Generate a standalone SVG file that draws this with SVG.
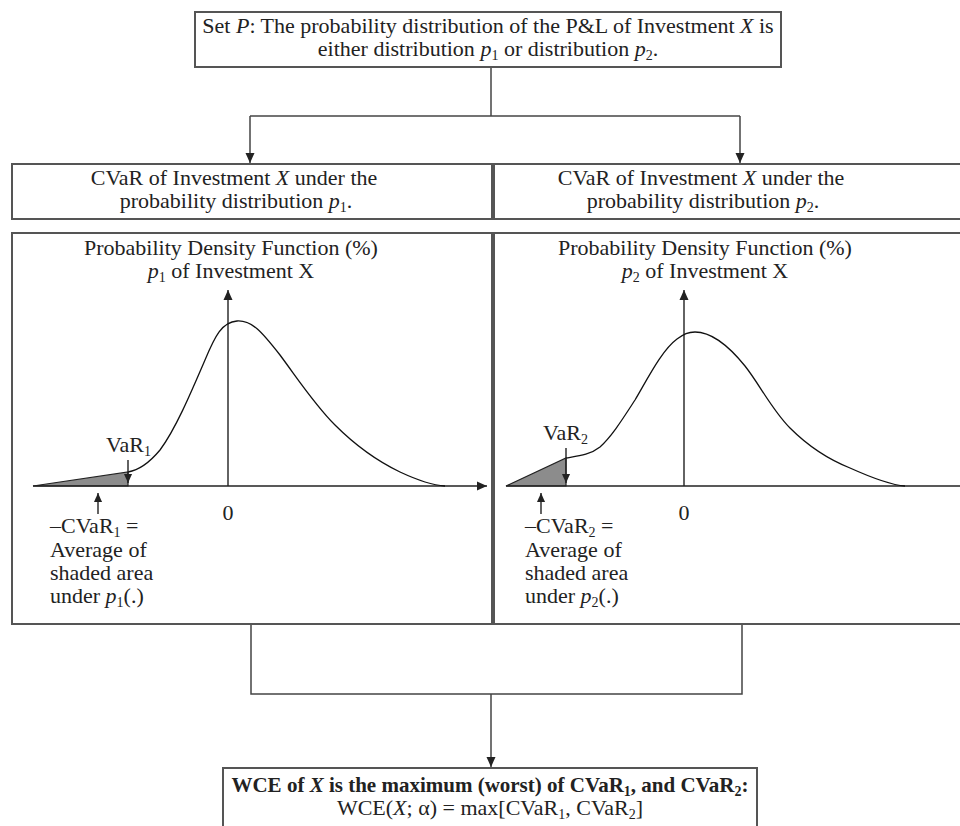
<svg xmlns="http://www.w3.org/2000/svg" width="960" height="826" viewBox="0 0 960 826">
<style>
.box{fill:#fff;stroke:#555;stroke-width:2}
.con{fill:none;stroke:#444;stroke-width:1.5}
.ax{fill:none;stroke:#222;stroke-width:1.4}
.crv{fill:none;stroke:#111;stroke-width:1.3}
.shade{fill:#8c8c8c;stroke:#222;stroke-width:1.2}
text{font-family:"Liberation Serif","Times New Roman",serif;font-size:22px;fill:#222}
.c{text-anchor:middle}
.b{font-weight:bold;font-size:21px}
.i{font-style:italic}
.s{font-size:14px}
</style>
<defs>
<marker id="ah" viewBox="0 0 10 10" refX="10" refY="5" markerWidth="10" markerHeight="10" markerUnits="userSpaceOnUse" orient="auto">
<path d="M0,0.5 L10,5 L0,9.5 Z" fill="#222"/>
</marker>
<marker id="ahs" viewBox="0 0 10 10" refX="10" refY="5" markerWidth="9" markerHeight="9" markerUnits="userSpaceOnUse" orient="auto">
<path d="M0,0.5 L10,5 L0,9.5 Z" fill="#222"/>
</marker>
</defs>
<rect width="960" height="826" fill="#fff"/>

<g id="connectors">
<path class="con" d="M491,67 V116"/>
<path class="con" d="M250,116 H740"/>
<path class="con" d="M250,116 V163" marker-end="url(#ah)"/>
<path class="con" d="M740,116 V163" marker-end="url(#ah)"/>
<path class="con" d="M251,625 V694 H742 V625"/>
<path class="con" d="M491,694 V767" marker-end="url(#ah)"/>
</g>

<g id="node-set-p">
<rect class="box" x="195" y="12" width="586" height="55"/>
<text class="c" x="488" y="33">Set <tspan class="i">P</tspan>: The probability distribution of the P&amp;L of Investment <tspan class="i">X</tspan> is</text>
<text class="c" x="488" y="56">either distribution <tspan class="i">p</tspan><tspan class="s" dy="4">1</tspan><tspan dy="-4"> or distribution </tspan><tspan class="i">p</tspan><tspan class="s" dy="4">2</tspan><tspan dy="-4">.</tspan></text>
</g>

<g id="node-cvar-p1">
<rect class="box" x="12" y="164" width="480" height="55"/>
<text class="c" x="234" y="185">CVaR of Investment <tspan class="i">X</tspan> under the</text>
<text class="c" x="236" y="208">probability distribution <tspan class="i">p</tspan><tspan class="s" dy="4">1</tspan><tspan dy="-4">.</tspan></text>
</g>

<g id="node-cvar-p2">
<rect class="box" x="494" y="164" width="470" height="55"/>
<text class="c" x="701" y="185">CVaR of Investment <tspan class="i">X</tspan> under the</text>
<text class="c" x="703" y="208">probability distribution <tspan class="i">p</tspan><tspan class="s" dy="4">2</tspan><tspan dy="-4">.</tspan></text>
</g>

<g id="node-pdf-p1">
<rect class="box" x="12" y="233" width="480" height="391"/>
<text class="c" x="231" y="255">Probability Density Function (%)</text>
<text class="c" x="231" y="278"><tspan class="i">p</tspan><tspan class="s" dy="4">1</tspan><tspan dy="-4"> of Investment X</tspan></text>
<polygon class="shade" points="33,486 128,472 128,486"/>
<path class="ax" d="M228,486 V290" marker-end="url(#ah)"/>
<path class="ax" d="M33,486 H487" marker-end="url(#ah)"/>
<path class="crv" d="M128,472 C140,470 150,462 160,450 C175,430 190,395 205,360 C215,336 222,322 237,321 C252,320 262,332 280,355 C300,382 315,405 335,425 C355,445 375,460 400,472 C415,479 430,485 445,486"/>
<text x="106" y="452">VaR<tspan class="s" dy="4">1</tspan></text>
<path class="ax" d="M128,460 V483" marker-end="url(#ahs)"/>
<path class="ax" d="M98,514 V493" marker-end="url(#ahs)"/>
<text class="c" x="228" y="520">0</text>
<text x="50" y="533">–CVaR<tspan class="s" dy="4">1</tspan><tspan dy="-4"> =</tspan></text>
<text x="50" y="557">Average of</text>
<text x="50" y="580">shaded area</text>
<text x="50" y="603">under <tspan class="i">p</tspan><tspan class="s" dy="4">1</tspan><tspan dy="-4">(.)</tspan></text>
</g>

<g id="node-pdf-p2">
<rect class="box" x="494" y="233" width="470" height="391"/>
<text class="c" x="705" y="255">Probability Density Function (%)</text>
<text class="c" x="705" y="278"><tspan class="i">p</tspan><tspan class="s" dy="4">2</tspan><tspan dy="-4"> of Investment X</tspan></text>
<polygon class="shade" points="506,486 566,458 566,486"/>
<path class="ax" d="M684,486 V290" marker-end="url(#ah)"/>
<path class="ax" d="M506,486 H962"/>
<path class="crv" d="M566,458 C578,456 590,455 600,447 C612,436 622,420 635,400 C648,378 662,350 677,339 C684,334 688,332 695,332 C712,332 728,345 745,366 C760,385 772,410 790,428 C808,446 830,460 850,468 C870,477 890,485 905,486"/>
<text x="543" y="440">VaR<tspan class="s" dy="4">2</tspan></text>
<path class="ax" d="M566,448 V483" marker-end="url(#ahs)"/>
<path class="ax" d="M541,514 V493" marker-end="url(#ahs)"/>
<text class="c" x="684" y="520">0</text>
<text x="525" y="533">–CVaR<tspan class="s" dy="4">2</tspan><tspan dy="-4"> =</tspan></text>
<text x="525" y="557">Average of</text>
<text x="525" y="580">shaded area</text>
<text x="525" y="603">under <tspan class="i">p</tspan><tspan class="s" dy="4">2</tspan><tspan dy="-4">(.)</tspan></text>
</g>

<g id="node-wce">
<rect class="box" x="223" y="768" width="534" height="70"/>
<text class="c b" x="490" y="792">WCE of <tspan class="i">X</tspan> is the maximum (worst) of CVaR<tspan class="s" dy="4">1</tspan><tspan dy="-4">, and CVaR</tspan><tspan class="s" dy="4">2</tspan><tspan dy="-4">:</tspan></text>
<text class="c" x="490" y="815">WCE(<tspan class="i">X</tspan>; α) = max[CVaR<tspan class="s" dy="4">1</tspan><tspan dy="-4">, CVaR</tspan><tspan class="s" dy="4">2</tspan><tspan dy="-4">]</tspan></text>
</g>
</svg>
